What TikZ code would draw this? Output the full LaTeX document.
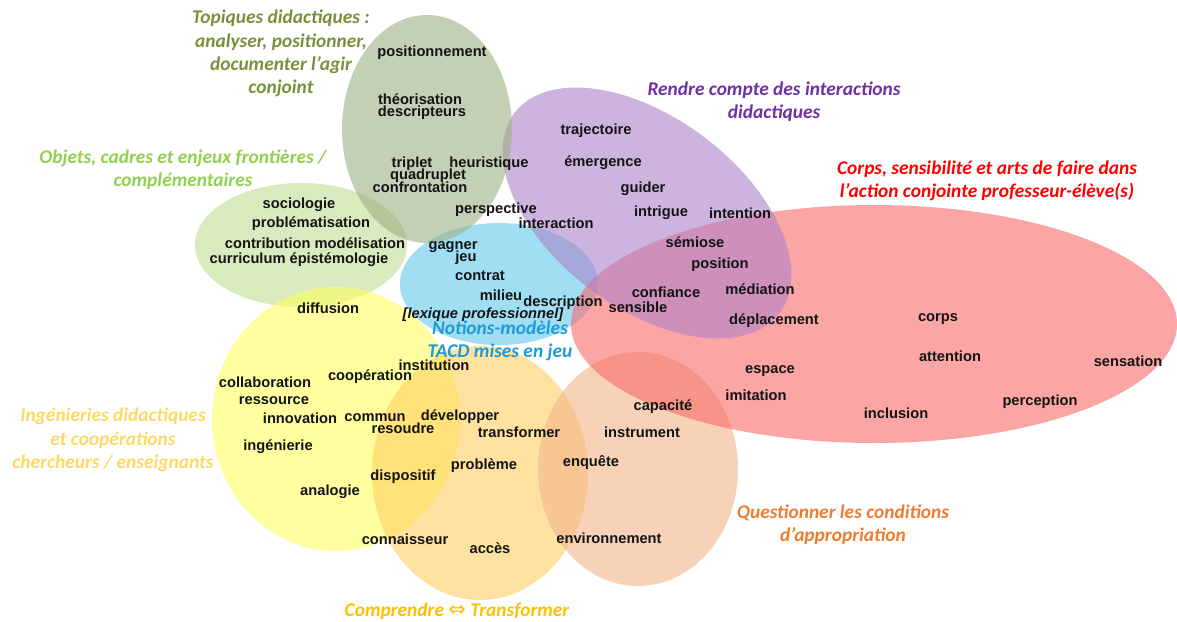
\documentclass[tikz,border=0pt]{standalone}
\usepackage{fontspec}
\setmainfont{Liberation Sans}
\newfontfamily\titlefont{Carlito}
\newfontfamily\symbfont{DejaVu Sans}
\definecolor{cDG}{RGB}{157,177,133}
\definecolor{cLG}{RGB}{190,220,147}
\definecolor{cBL}{RGB}{97,200,238}
\definecolor{cPU}{RGB}{172,130,200}
\definecolor{cRD}{RGB}{250,105,105}
\definecolor{cYE}{RGB}{255,255,97}
\definecolor{cOR}{RGB}{255,208,97}
\definecolor{cTN}{RGB}{243,180,138}
\definecolor{tDG}{RGB}{118,146,60}
\definecolor{tLG}{RGB}{146,208,80}
\definecolor{tPU}{RGB}{112,48,160}
\definecolor{tRD}{RGB}{255,0,0}
\definecolor{tBL}{RGB}{30,155,215}
\definecolor{tYE}{RGB}{255,217,102}
\definecolor{tOR}{RGB}{255,192,0}
\definecolor{tTN}{RGB}{237,125,49}
\definecolor{wordc}{RGB}{20,20,20}
\begin{document}
\begin{tikzpicture}[x=1pt,y=-1pt,
  word/.style={font=\fontsize{14.67}{15}\selectfont\bfseries, text=wordc, inner sep=0pt},
  ttl/.style={font=\titlefont\fontsize{19.4}{23.3}\selectfont\bfseries\itshape, align=center, inner sep=0pt},
  blob/.style={fill opacity=0.6}]
\useasboundingbox (0,0) rectangle (1177,621);
\fill[white] (0,0) rectangle (1177,621);
% ellipses
\fill[cLG, blob] (301,245) ellipse [x radius=106pt, y radius=62pt];
\fill[cYE, blob] (336,419) ellipse [x radius=124pt, y radius=132pt];
\fill[cOR, blob] (480,473) ellipse [x radius=108pt, y radius=127pt];
\fill[cTN, blob] (638,469) ellipse [x radius=100pt, y radius=117pt];
\fill[cBL, blob] (499,284) ellipse [x radius=99pt, y radius=61pt];
\fill[cRD, blob] (874,324) ellipse [x radius=303pt, y radius=119pt];
\fill[cPU, blob, rotate around={-37:(647,213)}] (647,213) ellipse [x radius=166pt, y radius=95pt];
\fill[cDG, blob] (427,129) ellipse [x radius=85pt, y radius=114pt];
% titles
\node[ttl, text=tDG] (t-topiques) at (281,53.5) {Topiques didactiques :\\analyser, positionner,\\documenter l’agir\\conjoint};
\node[ttl, text=tLG] (t-objets) at (183,169.5) {Objets, cadres et enjeux frontières /\\complémentaires};
\node[ttl, text=tPU] (t-rendre) at (774,101.5) {Rendre compte des interactions\\didactiques};
\node[ttl, text=tRD] (t-corps) at (987,181) {Corps, sensibilité et arts de faire dans\\l’action conjointe professeur-élève(s)};
\node[ttl, text=tBL] (t-notions) at (500,340.5) {Notions-modèles\\TACD mises en jeu};
\node[ttl, text=tYE] (t-ingen) at (113,440) {Ingénieries didactiques\\et coopérations\\chercheurs / enseignants};
\node[ttl, text=tOR] (t-compr) at (457,611) {Comprendre {\symbfont\mdseries\upshape\fontsize{21}{21}\selectfont ⇔} Transformer};
\node[ttl, text=tTN] (t-quest) at (843,524.5) {Questionner les conditions\\d’appropriation};
% dark green words
\node[word] (w-positionnement) at (432,53) {positionnement};
\node[word] (w-theorisation) at (420,99) {théorisation};
\node[word] (w-descripteurs) at (422,113) {descripteurs};
\node[word] (w-triplet) at (412,164) {triplet};
\node[word] (w-heuristique) at (489,164) {heuristique};
\node[word] (w-quadruplet) at (428,176) {quadruplet};
\node[word] (w-confrontation) at (420,187) {confrontation};
\node[word] (w-perspective) at (496,210) {perspective};
% purple words
\node[word] (w-trajectoire) at (596,131) {trajectoire};
\node[word] (w-emergence) at (603,163) {émergence};
\node[word] (w-guider) at (643,189) {guider};
\node[word] (w-intrigue) at (661,213) {intrigue};
\node[word] (w-intention) at (740,213) {intention};
\node[word] (w-interaction) at (556,223) {interaction};
\node[word] (w-semiose) at (695,242) {sémiose};
\node[word] (w-position) at (720,265) {position};
\node[word] (w-mediation) at (760,289) {médiation};
\node[word] (w-confiance) at (666,292) {confiance};
\node[word] (w-sensible) at (638,307) {sensible};
\node[word] (w-deplacement) at (774,321) {déplacement};
% light green words
\node[word] (w-sociologie) at (299,205) {sociologie};
\node[word] (w-problematisation) at (311,224) {problématisation};
\node[word] (w-contribution) at (315,243) {contribution modélisation};
\node[word] (w-curriculum) at (299,260) {curriculum épistémologie};
% blue words
\node[word] (w-gagner) at (453,247) {gagner};
\node[word] (w-jeu) at (466,258) {jeu};
\node[word] (w-contrat) at (480,276) {contrat};
\node[word] (w-milieu) at (501,295) {milieu};
\node[word] (w-description) at (563,303) {description};
\node[word, font=\fontsize{14.67}{15}\selectfont\bfseries\itshape] (w-lexique) at (483,315) {[lexique professionnel]};
% yellow / orange words
\node[word] (w-diffusion) at (328,308) {diffusion};
\node[word] (w-collaboration) at (265,382) {collaboration};
\node[word] (w-cooperation) at (370,377) {coopération};
\node[word] (w-institution) at (434,365) {institution};
\node[word] (w-ressource) at (274,401) {ressource};
\node[word] (w-innovation) at (300,418) {innovation};
\node[word] (w-commun) at (375,418) {commun};
\node[word] (w-resoudre) at (403,428) {resoudre};
\node[word] (w-developper) at (460,417) {développer};
\node[word] (w-ingenierie) at (278,447) {ingénierie};
\node[word] (w-transformer) at (519,432) {transformer};
\node[word] (w-probleme) at (484,466) {problème};
\node[word] (w-dispositif) at (403,477) {dispositif};
\node[word] (w-analogie) at (330,492) {analogie};
\node[word] (w-connaisseur) at (405,539) {connaisseur};
\node[word] (w-acces) at (490,548) {accès};
% tan words
\node[word] (w-capacite) at (663,407) {capacité};
\node[word] (w-instrument) at (642,432) {instrument};
\node[word] (w-enquete) at (591,463) {enquête};
\node[word] (w-environnement) at (609,538) {environnement};
% red words
\node[word] (w-corps) at (938,319) {corps};
\node[word] (w-attention) at (950,356) {attention};
\node[word] (w-sensation) at (1128,361) {sensation};
\node[word] (w-espace) at (770,371) {espace};
\node[word] (w-imitation) at (756,395) {imitation};
\node[word] (w-inclusion) at (896,413) {inclusion};
\node[word] (w-perception) at (1040,402) {perception};
\end{tikzpicture}
\end{document}
